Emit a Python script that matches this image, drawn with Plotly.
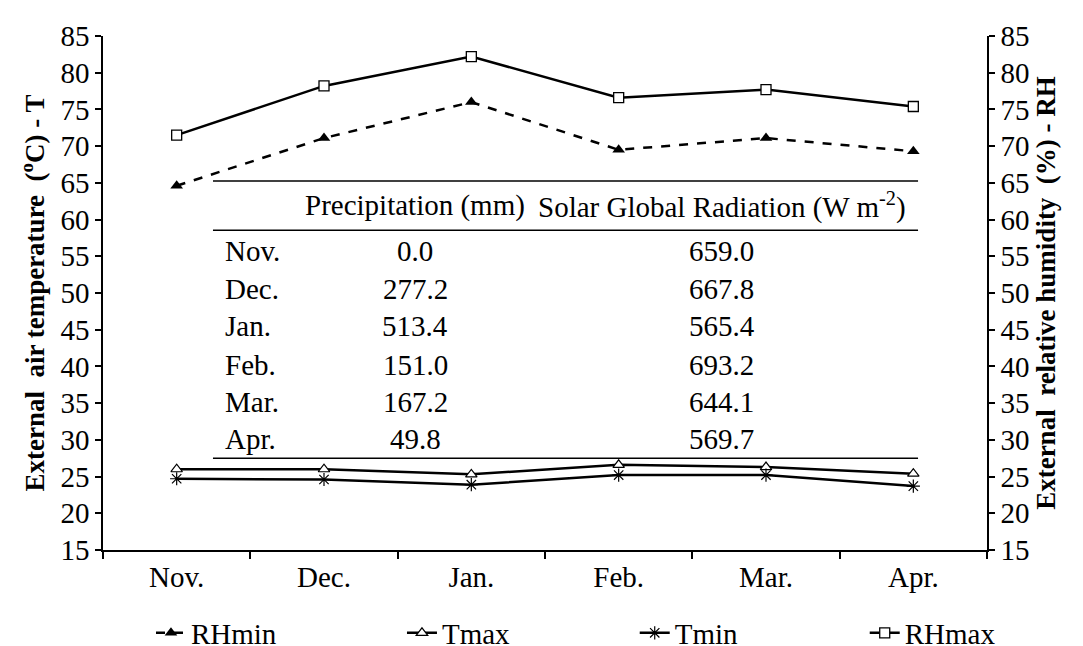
import plotly.graph_objects as go

months = ["Nov.", "Dec.", "Jan.", "Feb.", "Mar.", "Apr."]
rh_min = [64.6, 71.1, 76.0, 69.5, 71.1, 69.3]
t_max = [26.0, 26.0, 25.3, 26.6, 26.3, 25.4]
t_min = [24.7, 24.6, 23.9, 25.2, 25.2, 23.7]
rh_max = [71.5, 78.2, 82.2, 76.6, 77.7, 75.4]

precip = ["0.0", "277.2", "513.4", "151.0", "167.2", "49.8"]
radiation = ["659.0", "667.8", "565.4", "693.2", "644.1", "569.7"]
y_ticks = list(range(15, 90, 5))

FONT = "Liberation Serif"
FS = 29
BLACK = "#000000"

fig = go.Figure()
fig.add_trace(go.Scatter(
    x=months, y=rh_min, name="RHmin", yaxis="y2", mode="lines+markers",
    legend="legend",
    line=dict(color=BLACK, width=2.5, dash="dash"),
    marker=dict(symbol="triangle-up", size=11, color=BLACK)))
fig.add_trace(go.Scatter(
    x=months, y=t_max, name="Tmax", mode="lines+markers",
    legend="legend",
    line=dict(color=BLACK, width=2.5),
    marker=dict(symbol="triangle-up", size=10, color="white",
                line=dict(color=BLACK, width=1.2))))
fig.add_trace(go.Scatter(
    x=months, y=t_min, name="Tmin", mode="lines+markers",
    legend="legend2",
    line=dict(color=BLACK, width=2.5),
    marker=dict(symbol="asterisk-open", size=11, color=BLACK,
                line=dict(color=BLACK, width=1.2))))
fig.add_trace(go.Scatter(
    x=months, y=rh_max, name="RHmax", yaxis="y2", mode="lines+markers",
    legend="legend2",
    line=dict(color=BLACK, width=2.5),
    marker=dict(symbol="square", size=10, color="white",
                line=dict(color=BLACK, width=1.3))))

# table overlay
X0, X1 = 0.1244, 0.922
for yy in [0.718, 0.622, 0.1785]:
    fig.add_shape(type="line", xref="paper", yref="paper", x0=X0, x1=X1,
                  y0=yy, y1=yy, line=dict(color=BLACK, width=1.5))

ann = []
ann.append(dict(text="Precipitation (mm)", x=0.353, y=0.670))
ann.append(dict(text="Solar Global Radiation (W m<sup>-2</sup>)", x=0.700, y=0.670))
row_y = [0.5816, 0.5086, 0.4357, 0.3608, 0.2879, 0.2169]
for m, p, r, yy in zip(months, precip, radiation, row_y):
    ann.append(dict(text=m, x=0.1357, y=yy, xanchor="left"))
    ann.append(dict(text=p, x=0.353, y=yy))
    ann.append(dict(text=r, x=0.700, y=yy))
for a in ann:
    a.setdefault("xanchor", "center")
    fig.add_annotation(xref="paper", yref="paper", yanchor="middle",
                       showarrow=False, font=dict(family=FONT, size=FS, color=BLACK), **a)

axis_common = dict(
    range=[15, 85], tickvals=y_ticks, ticks="outside", ticklen=6, tickwidth=1.5,
    tickcolor=BLACK, showline=True, linecolor=BLACK, linewidth=1.5,
    showgrid=False, zeroline=False,
    tickfont=dict(family=FONT, size=FS, color=BLACK),
)

legend_common = dict(orientation="h", xref="container", yref="container",
                     y=0.0204, xanchor="left", yanchor="middle",
                     entrywidthmode="pixels",
                     font=dict(family=FONT, size=FS, color=BLACK),
                     bgcolor="rgba(0,0,0,0)")

# page body has an 8px margin, so the figure is 8px smaller than the window
fig.update_layout(
    width=1075, height=638,
    margin=dict(l=95, r=96, t=21, b=96),
    paper_bgcolor="white", plot_bgcolor="white",
    font=dict(family=FONT, size=FS, color=BLACK),
    showlegend=True,
    legend=dict(x=0.133, entrywidth=206, **legend_common),
    legend2=dict(x=0.583, entrywidth=185, **legend_common),
    xaxis=dict(type="category", range=[-0.5, 5.5], tickson="boundaries",
               ticks="outside", ticklen=7, tickwidth=1.5, tickcolor=BLACK,
               showline=True, linecolor=BLACK, linewidth=1.5, showgrid=False,
               tickfont=dict(family=FONT, size=FS, color=BLACK)),
    yaxis=dict(title=dict(text="<b>External  air temperature  (<sup>o</sup>C) - T</b>",
                          font=dict(family=FONT, size=27, color=BLACK), standoff=8),
               **axis_common),
    yaxis2=dict(title=dict(text="<b>External  relative humidity  (%) - RH</b>",
                           font=dict(family=FONT, size=27, color=BLACK), standoff=8),
                overlaying="y", side="right", **axis_common),
)

fig.write_html("out.html")
